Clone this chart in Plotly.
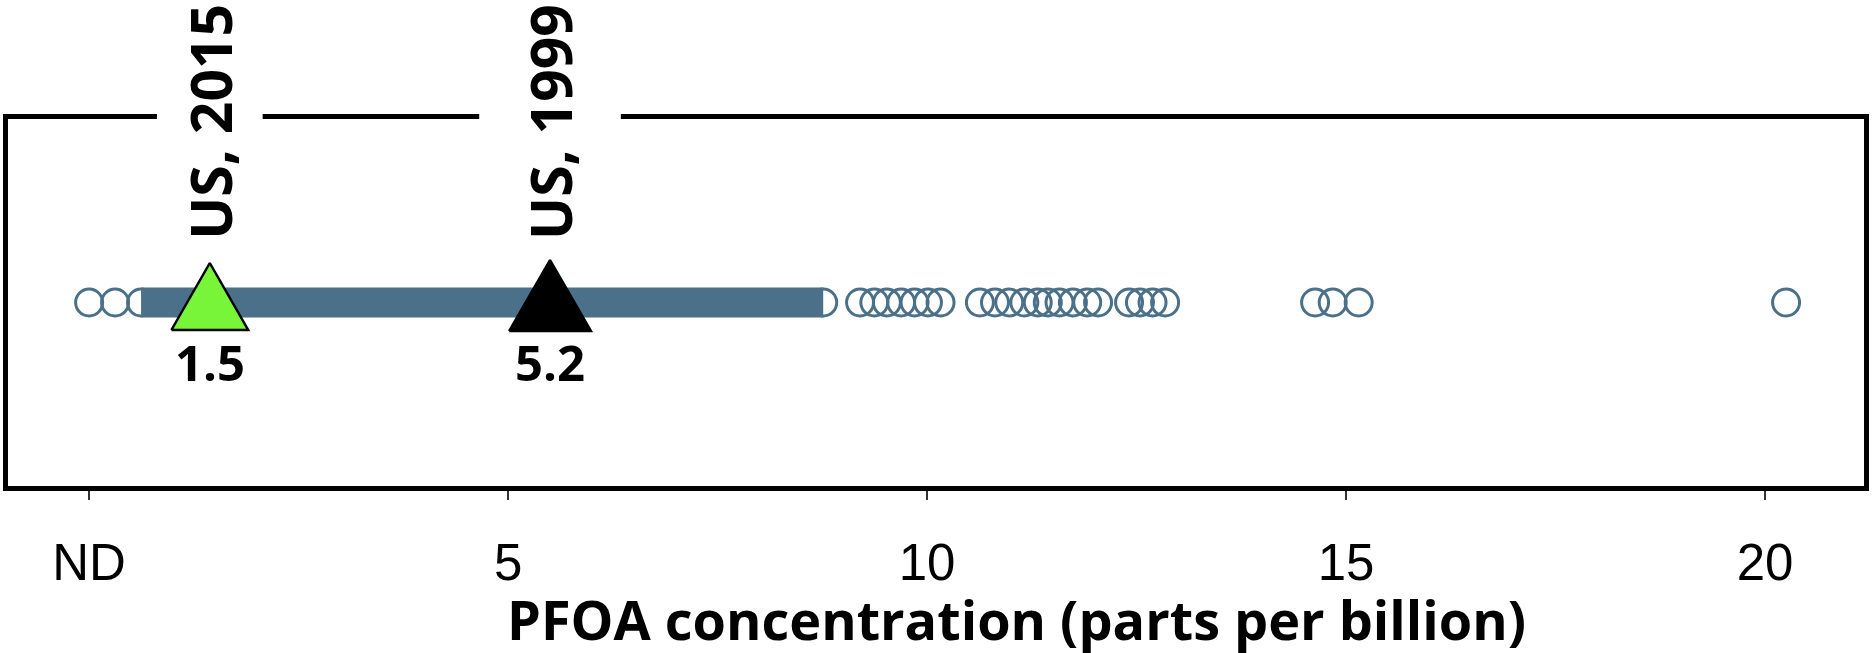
import plotly.graph_objects as go

# ---------------- data ----------------
# individually distinguishable samples (ppb); 0 = ND
sample_values = [0.0, 0.31,
                 9.20, 9.37, 9.52, 9.69, 9.85, 10.01, 10.16,
                 10.63, 10.81, 10.98, 11.16, 11.32, 11.44, 11.58, 11.74, 11.91, 12.04,
                 12.41, 12.54, 12.69, 12.84,
                 14.63, 14.84, 15.15,
                 20.25]
# range densely packed with overlapping samples (drawn as a continuous band)
dense_range = [0.62, 8.76]

ref_labels = ["US, 2015", "US, 1999"]
ref_values = ["1.5", "5.2"]          # printed values
ref_positions = [1.44, 5.50]         # where the markers sit on the axis
ref_colors = ["#78f538", "#000000"]

tick_vals = [0, 5, 10, 15, 20]
tick_text = ["ND", "5", "10", "15", "20"]
x_title = "PFOA concentration (parts per billion)"

# ---------------- style / geometry ----------------
W, H = 1875, 653
ML, MR, MT, MB = 8, 6, 119, 167
X_RANGE = [-0.968, 21.18]
Y_RANGE = [-1, 1]
plot_w = W - ML - MR
plot_h = H - MT - MB
px_x = plot_w / (X_RANGE[1] - X_RANGE[0])
px_y = plot_h / (Y_RANGE[1] - Y_RANGE[0])

DOT_COLOR = "#4b7089"
tri_half_w_px = [38.5, 41.0]
tri_top_px = [39.5, 42.5]
tri_bot_px = [27.5, 28.5]
gap_w_px = [106, 142]

BOLD = dict(family="Open Sans, Noto Sans, sans-serif", color="black", weight="bold")

fig = go.Figure()

# dense band of overlapping samples
fig.add_trace(go.Scatter(
    x=dense_range, y=[0] * len(dense_range), mode="lines+markers",
    line=dict(color=DOT_COLOR, width=30),
    marker=dict(symbol="circle-open", size=27, color=DOT_COLOR, line=dict(width=3)),
    hoverinfo="skip", showlegend=False))

# individual samples
fig.add_trace(go.Scatter(
    x=sample_values, y=[0] * len(sample_values), mode="markers",
    marker=dict(symbol="circle-open", size=27, color=DOT_COLOR, line=dict(width=3)),
    showlegend=False))

# reference triangles
for pos, col, hw, tp, bp in zip(ref_positions, ref_colors, tri_half_w_px, tri_top_px, tri_bot_px):
    dx = hw / px_x
    fig.add_trace(go.Scatter(
        x=[pos - dx, pos + dx, pos, pos - dx],
        y=[-bp / px_y, -bp / px_y, tp / px_y, -bp / px_y],
        mode="lines", fill="toself", fillcolor=col,
        line=dict(color="black", width=2.5),
        hoverinfo="skip", showlegend=False))

annotations = []
shapes = []
for lab, val, pos, gw in zip(ref_labels, ref_values, ref_positions, gap_w_px):
    annotations.append(dict(
        x=pos, xref="x", y=0.992, yref="paper", text=lab, showarrow=False,
        textangle=-90, xanchor="center", yanchor="middle",
        font=dict(size=57, **BOLD)))
    annotations.append(dict(
        x=pos, xref="x", y=-0.324, yref="y", text=val, showarrow=False,
        xanchor="center", yanchor="middle",
        font=dict(size=49, **BOLD)))
    half = gw / 2 / px_x
    shapes.append(dict(type="rect", xref="x", yref="paper",
                       x0=pos - half, x1=pos + half, y0=0.985, y1=1.035,
                       fillcolor="white", line=dict(width=0), layer="above"))

annotations.append(dict(
    x=(1019 - ML) / plot_w, xref="paper", y=-0.362, yref="paper",
    text=x_title, showarrow=False, xanchor="center", yanchor="middle",
    font=dict(size=54, **BOLD)))

fig.update_layout(
    width=W, height=H,
    margin=dict(l=ML, r=MR, t=MT, b=MB, pad=0),
    paper_bgcolor="white", plot_bgcolor="white",
    xaxis=dict(range=X_RANGE, tickvals=tick_vals, ticktext=tick_text,
               showgrid=False, zeroline=False,
               showline=True, linecolor="black", linewidth=5, mirror=True,
               ticks="outside", ticklen=9, tickwidth=2, tickcolor="#333333",
               ticklabelstandoff=19,
               tickfont=dict(family="Liberation Sans, Arial, sans-serif", size=51, color="black")),
    yaxis=dict(range=Y_RANGE, showgrid=False, zeroline=False, showticklabels=False,
               showline=True, linecolor="black", linewidth=5, mirror=True, ticks=""),
    annotations=annotations, shapes=shapes,
)

fig.write_html("out.html", config={"displayModeBar": False})
